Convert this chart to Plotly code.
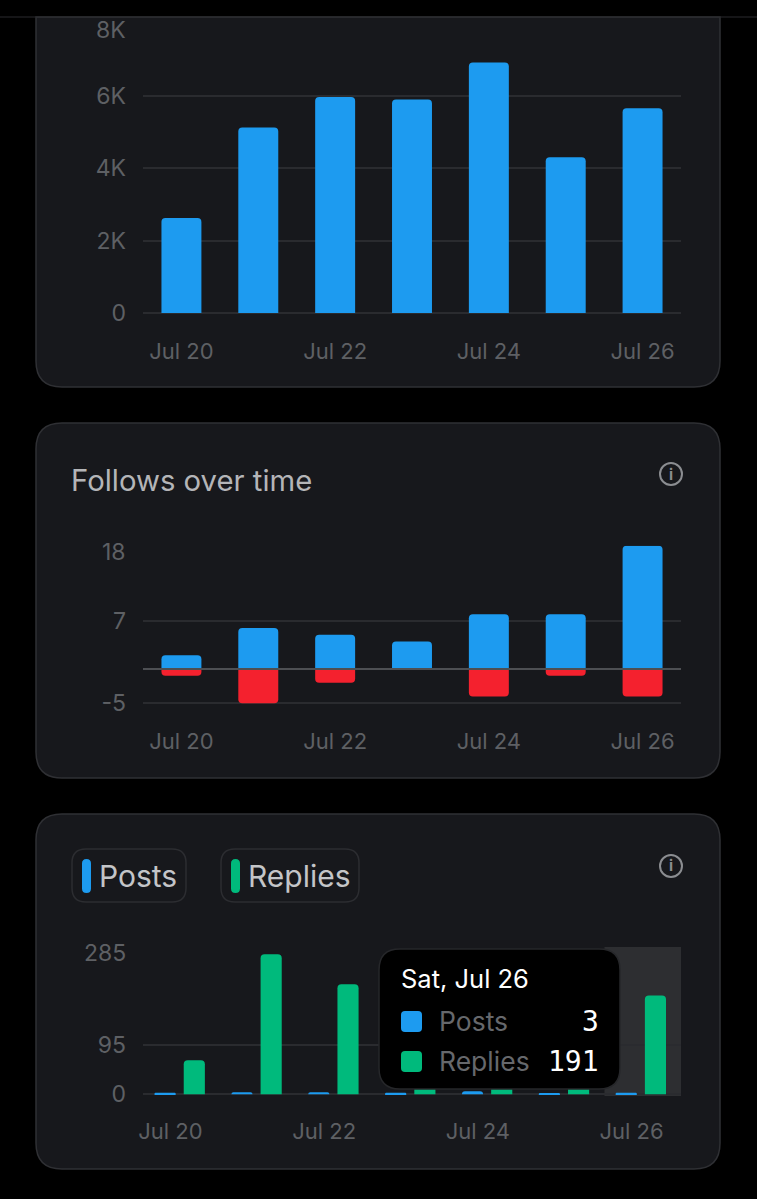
import plotly.graph_objects as go

days = ["Jul 20", "Jul 21", "Jul 22", "Jul 23", "Jul 24", "Jul 25", "Jul 26"]
day_ticks = ["Jul 20", "Jul 22", "Jul 24", "Jul 26"]

impressions = [2620, 5120, 5960, 5890, 6910, 4300, 5650]
impression_ticks = [0, 2000, 4000, 6000, 8000]
impression_labels = ["0", "2K", "4K", "6K", ""]

follows = [2, 6, 5, 4, 8, 8, 18]
unfollows = [-1, -5, -2, 0, -4, -1, -4]
follow_ticks = [-5, 0, 7, 18]
follow_labels = ["-5", "", "7", ""]

posts = [3, 4, 4, 3, 6, 2, 3]
# the three middle replies bars sit behind the tooltip, heights are a guess
replies = [66, 271, 213, 30, 25, 20, 191]
post_ticks = [0, 95, 285]
post_labels = ["0", "95", ""]

W = 757
H = 1199
BLUE = "#1d9bf0"
RED = "#f4212e"
GREEN = "#00ba7c"
CARD = "#17181c"
EDGE = "#2f3034"
GRID = "#2a2b2f"
TICK = "#5e6064"
FONT = "Inter"


# pixel helpers, the page is laid out in screen pixels
def px(x):
    return x / W


def py(y):
    return 1 - y / H


def rounded(x0, y0, x1, y1, r, top=True):
    p = "M %f,%f " % (px(x0 + r if top else x0), py(y0))
    p += "L %f,%f " % (px(x1 - r if top else x1), py(y0))
    if top:
        p += "Q %f,%f %f,%f " % (px(x1), py(y0), px(x1), py(y0 + r))
    p += "L %f,%f " % (px(x1), py(y1 - r))
    p += "Q %f,%f %f,%f " % (px(x1), py(y1), px(x1 - r), py(y1))
    p += "L %f,%f " % (px(x0 + r), py(y1))
    p += "Q %f,%f %f,%f " % (px(x0), py(y1), px(x0), py(y1 - r))
    p += "L %f,%f " % (px(x0), py(y0 + r if top else y0))
    if top:
        p += "Q %f,%f %f,%f " % (px(x0), py(y0), px(x0 + r), py(y0))
    return p + "Z"


def box(x0, y0, x1, y1, r, fill, line=None, layer="below", top=True):
    return dict(
        type="path", xref="paper", yref="paper", layer=layer,
        path=rounded(x0, y0, x1, y1, r, top), fillcolor=fill,
        line=dict(color=line or fill, width=1.5 if line else 0),
    )


def label(x, y, text, size, color, anchor="left", family=FONT, weight=None):
    return dict(
        xref="paper", yref="paper", x=px(x), y=py(y), text=text, showarrow=False,
        xanchor=anchor, yanchor="middle", xshift=0, yshift=0,
        font=dict(size=size, color=color, family=family, weight=weight),
    )


def info_icon(cx, cy):
    ring = dict(
        type="circle", xref="paper", yref="paper", layer="below",
        x0=px(cx - 11), x1=px(cx + 11), y0=py(cy + 11), y1=py(cy - 11),
        line=dict(color="#8b8d91", width=2), fillcolor="rgba(0,0,0,0)",
    )
    return ring, label(cx, cy, "i", 15, "#8b8d91", "center", weight=700)


def x_axis(anchor, shift=0, standoff=21):
    return dict(
        domain=[px(143), px(681)], anchor=anchor, type="category",
        categoryorder="array", categoryarray=days, range=[-0.5, 6.5],
        tickmode="array", tickvals=day_ticks, showgrid=False, zeroline=False,
        showline=False, ticks="", ticklen=0, ticklabelstandoff=standoff,
        ticklabelshift=shift, tickfont=dict(size=22, color=TICK, family=FONT),
        fixedrange=True,
    )


def y_axis(anchor, top, bottom, low, high, vals, text):
    return dict(
        domain=[py(bottom), py(top)], anchor=anchor, range=[low, high],
        tickmode="array", tickvals=vals, ticktext=text, showgrid=True,
        gridcolor=GRID, gridwidth=2, zeroline=False, showline=False, ticks="",
        ticklen=0, ticklabelstandoff=16,
        tickfont=dict(size=23, color=TICK, family=FONT), fixedrange=True,
    )


fig = go.Figure()

fig.add_trace(go.Bar(x=days, y=impressions, marker_color=BLUE, xaxis="x", yaxis="y",
                     marker_line_width=0, width=0.52))

fig.add_trace(go.Bar(x=days, y=follows, marker_color=BLUE, xaxis="x2", yaxis="y2",
                     marker_line_width=0, width=0.52))
fig.add_trace(go.Bar(x=days, y=unfollows, marker_color=RED, xaxis="x2", yaxis="y2",
                     marker_line_width=0, width=0.52))

fig.add_trace(go.Bar(x=days, y=posts, marker_color=BLUE, xaxis="x3", yaxis="y3",
                     marker_line_width=0, offsetgroup="posts", width=0.275,
                     offset=-0.35))
fig.add_trace(go.Bar(x=days, y=replies, marker_color=GREEN, xaxis="x3", yaxis="y3",
                     marker_line_width=0, offsetgroup="replies", width=0.275,
                     offset=0.03))

shapes = [
    box(36, 17, 720, 387, 26, CARD, EDGE, top=False),
    box(36, 423, 720, 778, 26, CARD, EDGE),
    box(36, 814, 720, 1169, 26, CARD, EDGE),
    # thin rule under the black header
    dict(type="line", xref="paper", yref="paper", layer="below", x0=0, x1=1,
         y0=py(17), y1=py(17), line=dict(color="#2a2b2e", width=1)),
    # hovered day highlight
    dict(type="rect", xref="x3", yref="y3", layer="below", x0=5.504, x1=6.5,
         y0=-3.3, y1=285, fillcolor="#2d2e31", line_width=0),
    # zero line sits on top of the bars
    dict(type="line", xref="paper", yref="y2", layer="above", x0=px(143), x1=px(681),
         y0=0, y1=0, line=dict(color="#4d4f53", width=2)),
    # legend chips
    box(72, 849, 186, 902, 14, CARD, "#2c2d31"),
    box(221, 849, 359, 902, 14, CARD, "#2c2d31"),
    box(82, 859, 91, 893, 4.5, BLUE),
    box(231, 859, 240, 893, 4.5, GREEN),
    # tooltip
    box(379, 949, 620, 1089, 21, "#000000", "#26272a", layer="above"),
    box(401, 1011, 422, 1032, 4, BLUE, layer="above"),
    box(401, 1051, 422, 1072, 4, GREEN, layer="above"),
]

notes = [
    label(69, 480, "Follows over time", 29.3, "#b4b5b8"),
    label(97, 876, "Posts", 30, "#c4c5c8"),
    label(246, 876, "Replies", 30, "#c4c5c8"),
    label(399, 978, "Sat, Jul 26", 25.5, "#ffffff"),
    label(437, 1021, "Posts", 26.5, "#66686c"),
    label(437, 1061, "Replies", 26.5, "#66686c"),
    label(601, 1021, "3", 28, "#ffffff", "right", "DejaVu Sans Mono"),
    label(601, 1061, "191", 28, "#ffffff", "right", "DejaVu Sans Mono"),
    # top tick labels sit lower than their gridlines
    label(128, 30, "8K", 23, TICK, "right"),
    label(128, 552, "18", 23, TICK, "right"),
    label(128, 953, "285", 23, TICK, "right"),
]
for cy in (474, 866):
    ring, dot = info_icon(671, cy)
    shapes.append(ring)
    notes.append(dot)

fig.update_layout(
    width=W,
    height=H,
    margin=dict(l=0, r=0, t=0, b=0, autoexpand=False),
    paper_bgcolor="#000000",
    plot_bgcolor="rgba(0,0,0,0)",
    showlegend=False,
    barmode="relative",
    barcornerradius=4,
    font=dict(family=FONT),
    shapes=shapes,
    annotations=notes,
    xaxis=x_axis("y"),
    yaxis=y_axis("x", 23, 315, -55, 8000, impression_ticks, impression_labels),
    xaxis2=x_axis("y2", standoff=20),
    yaxis2=y_axis("x2", 545.7, 706, -5.4, 18, follow_ticks, follow_labels),
    xaxis3=x_axis("y3", shift=-11, standoff=20),
    yaxis3=y_axis("x3", 947, 1096, -3.3, 285, post_ticks, post_labels),
)

fig.write_html("out.html", config={"displayModeBar": False},
               post_script="document.body.style.margin='0';")
